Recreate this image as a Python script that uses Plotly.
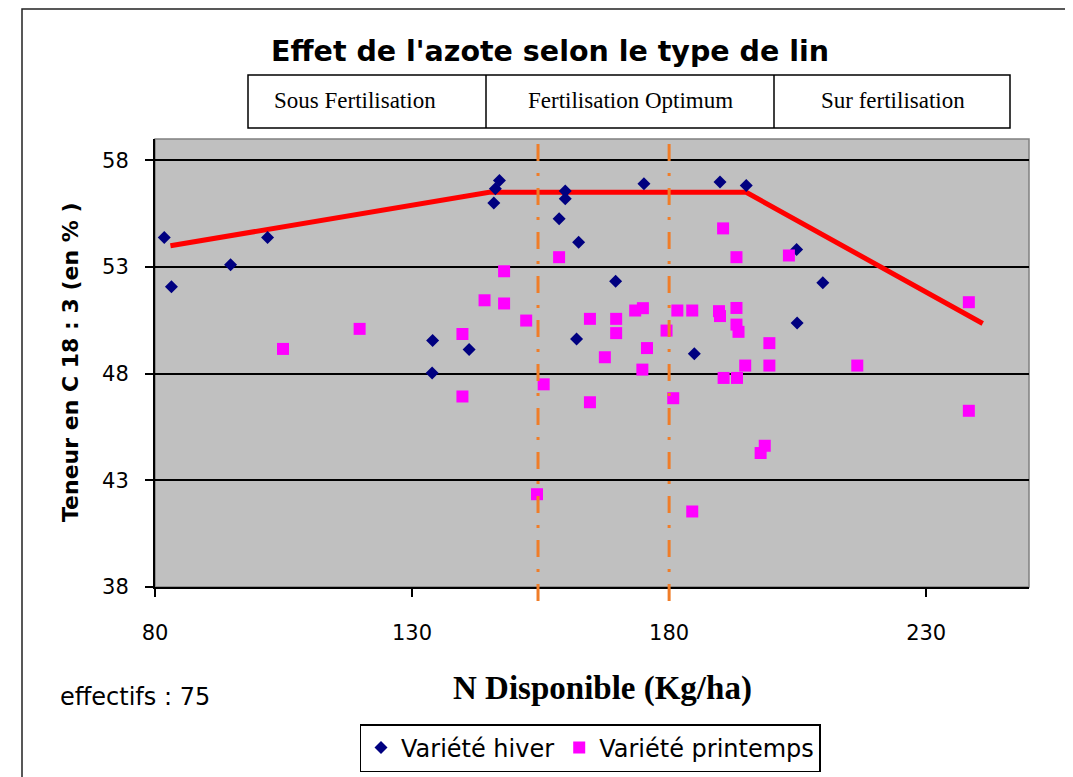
import plotly.graph_objects as go

# ---------------- data ----------------
hiver_x = [81.8, 83.2, 94.7, 101.9, 134.0, 133.9, 141.1, 145.9, 146.2, 147.0,
           159.8, 159.8, 158.6, 162.4, 162.0, 169.6, 175.1, 184.9, 189.9, 195.0,
           204.8, 209.9, 204.9]
hiver_y = [54.38, 52.08, 53.10, 54.38, 49.56, 48.03, 49.13, 56.00, 56.67, 57.06,
           56.56, 56.20, 55.26, 54.16, 49.63, 52.33, 56.90, 48.93, 56.98, 56.82,
           53.82, 52.26, 50.38]

printemps_x = [104.9, 119.8, 139.8, 139.8, 144.1, 147.9, 147.9, 152.2, 154.3, 155.6,
               158.6, 164.6, 164.6, 167.5, 169.7, 169.7, 173.4, 174.9, 174.8, 175.7,
               179.5, 180.8, 181.6, 184.5, 184.5, 189.7, 189.9, 190.5, 190.6, 193.1,
               193.1, 193.1, 193.5, 193.2, 194.8, 197.8, 198.6, 199.5, 199.5, 203.3,
               216.6, 238.3, 238.3]
printemps_y = [49.16, 50.10, 49.86, 46.93, 51.44, 52.80, 51.29, 50.49, 42.35, 47.50,
               53.46, 50.57, 46.66, 48.77, 50.57, 49.90, 50.96, 51.07, 48.19, 49.20,
               50.02, 46.85, 50.96, 50.96, 41.54, 50.93, 50.70, 54.81, 47.80, 53.46,
               51.08, 50.30, 49.96, 47.80, 48.38, 44.28, 44.62, 49.43, 48.38, 53.54,
               48.38, 51.35, 46.26]

trend_x = [83.0, 145.0, 195.0, 241.0]
trend_y = [54.0, 56.5, 56.5, 50.35]

limits_x = [154.5, 180.0]

x_ticks = [80, 130, 180, 230]
y_ticks = [38, 43, 48, 53, 58]

zones = ["Sous Fertilisation", "Fertilisation Optimum", "Sur fertilisation"]

# ---------------- layout helpers ----------------
# The page body adds an 8px margin; work in screenshot pixels and shift.
OFF = 8
W, H = 1073 - OFF, 777 - OFF
PLOT_L, PLOT_R, PLOT_T, PLOT_B = 155, 1029, 139, 587  # screenshot pixels
L, T = PLOT_L - OFF, PLOT_T - OFF
R = W - (PLOT_R - OFF)
B = H - (PLOT_B - OFF)
PW, PH = PLOT_R - PLOT_L, PLOT_B - PLOT_T


def px(x):
    return (x - PLOT_L) / PW


def py(y):
    return (PLOT_B - y) / PH


SANS = "DejaVu Sans, Liberation Sans, Arial, sans-serif"
SERIF = "Liberation Serif, Times New Roman, serif"

fig = go.Figure()

fig.add_trace(go.Scatter(
    x=trend_x, y=trend_y, mode="lines",
    line=dict(color="#FF0000", width=5),
    showlegend=False, hoverinfo="skip"))

fig.add_trace(go.Scatter(
    x=hiver_x, y=hiver_y, mode="markers", name="Variété hiver",
    marker=dict(symbol="diamond", size=10, color="#000080")))

fig.add_trace(go.Scatter(
    x=printemps_x, y=printemps_y, mode="markers", name="Variété printemps",
    marker=dict(symbol="square", size=12, color="#FF00FF")))

shapes = []
shapes.append(dict(type="rect", xref="paper", yref="paper", x0=0, x1=1, y0=0, y1=1,
                   line=dict(color="#808080", width=1.5), layer="below"))
for lx in limits_x:
    shapes.append(dict(type="line", xref="x", yref="paper", x0=lx, x1=lx,
                       y0=py(601), y1=py(132),
                       line=dict(color="#F07D28", width=3,
                                 dash="17px,12px,3px,12px")))
shapes.append(dict(type="rect", xref="paper", yref="paper",
                   x0=px(248), x1=px(1010), y0=py(128), y1=py(75),
                   line=dict(color="black", width=1.5)))
for dx in [486, 774]:
    shapes.append(dict(type="line", xref="paper", yref="paper",
                       x0=px(dx), x1=px(dx), y0=py(128), y1=py(75),
                       line=dict(color="black", width=1.5)))
shapes.append(dict(type="rect", xref="paper", yref="paper",
                   x0=px(22), x1=px(1071), y0=py(790), y1=py(9),
                   line=dict(color="#222222", width=1.5)))


def ann(text, x, y, font, xanchor="center", **kw):
    return dict(text=text, x=px(x), y=py(y), xref="paper", yref="paper",
                xanchor=xanchor, yanchor="middle", showarrow=False, font=font, **kw)


annotations = [
    ann("<b>Effet de l'azote selon le type de lin</b>", 550, 52,
        dict(family=SANS, size=28.5, color="black")),
    ann("<b>N Disponible (Kg/ha)</b>", 602, 688,
        dict(family=SERIF, size=33, color="black")),
    ann("<b>Teneur en C 18 : 3 (en % )</b>", 70, 362,
        dict(family=SANS, size=22, color="black"), textangle=-90),
    ann("effectifs : 75", 58, 697, dict(family=SANS, size=24, color="black"),
        xanchor="left"),
]
for label, cx in zip(zones, [355, 630, 893]):
    annotations.append(ann(label, cx, 101, dict(family=SERIF, size=23, color="black")))

fig.update_layout(
    width=W, height=H,
    margin=dict(l=L, r=R, t=T, b=B, autoexpand=False),
    paper_bgcolor="white",
    plot_bgcolor="#C0C0C0",
    shapes=shapes,
    annotations=annotations,
    legend=dict(orientation="h", x=px(590), y=py(748), xanchor="center", yanchor="middle",
                bordercolor="black", borderwidth=1.5, bgcolor="white",
                font=dict(family=SANS, size=24, color="black"),
                itemwidth=30, tracegroupgap=0),
    xaxis=dict(range=[80, 250], tickvals=x_ticks, showgrid=False, zeroline=False,
               showline=True, linecolor="black", linewidth=2,
               ticks="outside", ticklen=8, tickcolor="black", tickwidth=2,
               ticklabelstandoff=18,
               tickfont=dict(family=SANS, size=21, color="black")),
    yaxis=dict(range=[38, 59], tickvals=y_ticks, showgrid=True, gridcolor="black",
               gridwidth=2, zeroline=False,
               showline=True, linecolor="black", linewidth=2,
               ticks="outside", ticklen=8, tickcolor="black", tickwidth=2,
               ticklabelstandoff=12,
               tickfont=dict(family=SANS, size=21, color="black")),
)

fig.write_html("out.html")
